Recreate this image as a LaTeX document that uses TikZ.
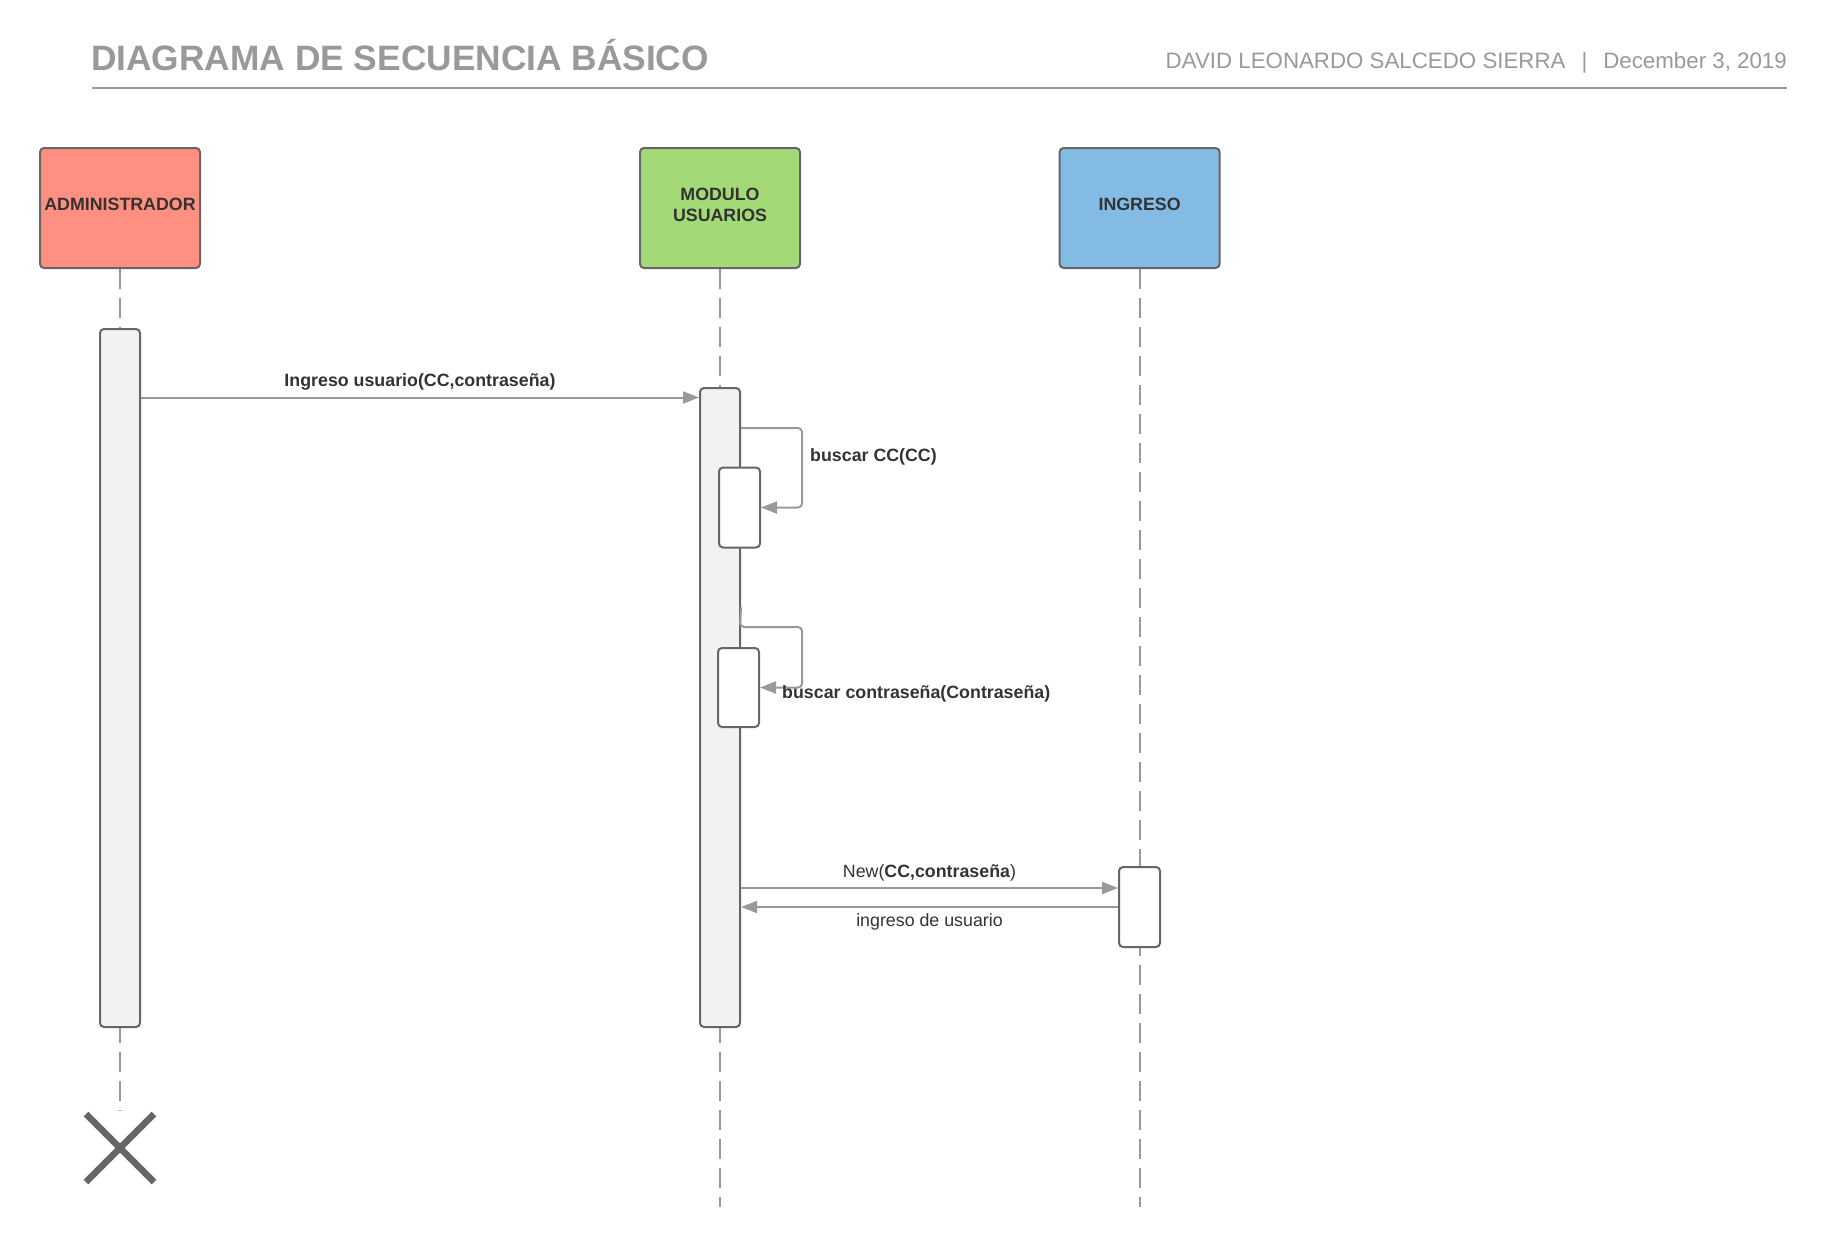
\documentclass[tikz,border=0pt]{standalone}
\usepackage{fontspec}
\setmainfont{Liberation Sans}
\usetikzlibrary{arrows.meta}
\definecolor{hdr}{HTML}{999999}
\definecolor{bord}{HTML}{666666}
\definecolor{txt}{HTML}{333333}
\definecolor{conn}{HTML}{999999}
\definecolor{redf}{HTML}{FF8F80}
\definecolor{greenf}{HTML}{A3D977}
\definecolor{bluef}{HTML}{83BBE5}
\definecolor{actf}{HTML}{F2F2F2}
\begin{document}
\begin{tikzpicture}[x=1pt,y=-1pt,
  head/.style={draw=bord, line width=2pt, rounded corners=4pt, minimum width=160pt, minimum height=120pt,
    font=\fontsize{17.8}{21}\selectfont\bfseries, text=txt, align=center, inner sep=0pt, text depth=7pt},
  act/.style={draw=bord, line width=2pt, rounded corners=4pt, fill=actf, minimum width=40pt, inner sep=0pt},
  sub/.style={act, fill=white, minimum width=41pt},
  life/.style={draw=conn, line width=2pt, dash pattern=on 20pt off 9pt},
  msg/.style={draw=conn, line width=2pt, -{Triangle[length=16pt,width=12pt]}},
  lbl/.style={font=\fontsize{17.8}{21}\selectfont, text=txt, inner sep=0pt},
  blbl/.style={font=\fontsize{17.8}{21}\selectfont\bfseries, text=txt, inner sep=0pt},
]
\useasboundingbox (0,0) rectangle (1828,1248);

% header
\node[anchor=base west, inner sep=0pt, text=hdr, font=\fontsize{35.3}{42}\selectfont\bfseries] (title) at (91,70.5) {DIAGRAMA DE SECUENCIA BÁSICO};
\node[anchor=base east, inner sep=0pt, text=hdr, font=\fontsize{22.3}{26}\selectfont] (author) at (1787,68) {DAVID LEONARDO SALCEDO SIERRA\hspace{16pt}|\hspace{16pt}December 3, 2019};
\draw[draw=hdr, line width=2pt] (92,87.5) -- (1787,87.5);

% lifeline heads
\node[head, fill=redf] (ah) at (120,208) {ADMINISTRADOR};
\node[head, fill=greenf] (mh) at (720,208) {MODULO\\USUARIOS};
\node[head, fill=bluef] (ih) at (1139.6,208) {INGRESO};

% lifeline ends
\coordinate (aend) at (120,1111);
\coordinate (mend) at (720,1207);
\coordinate (iend) at (1139.6,1207);
\draw[life] (ah.south) -- (aend);
\draw[life] (mh.south) -- (mend);
\draw[life] (ih.south) -- (iend);

% activations
\node[act, minimum height=698pt] (aa) at (120,678) {};
\node[act, minimum height=639pt] (ma) at (720,707.5) {};
\node[sub, minimum height=80pt] (s1) at (739.5,507.5) {};
\node[sub, minimum height=79pt] (s2) at (738.5,687.5) {};
\node[sub, minimum height=80pt] (ia) at (1139.5,907) {};

% message levels
\coordinate (y1) at (0,397.5);
\coordinate (y2) at (0,428);
\coordinate (y3) at (0,607);
\coordinate (y4) at (0,888);
\coordinate (y5) at (0,907);

\draw[msg] (aa.east |- y1) -- node[blbl, yshift=15.5pt] (l1) {Ingreso usuario(CC,contraseña)} (ma.west |- y1);

\draw[msg, rounded corners=4pt] (ma.east |- y2) -- (802,428) |- (s1.east);
\node[blbl, anchor=west] (l2) at (810,457) {buscar CC(CC)};

\draw[msg, rounded corners=4pt] (ma.east |- y3) -- (740,627) -- (802,627) |- (s2.east);
\node[blbl, anchor=west] (l3) at (782,693.5) {buscar contraseña(Contraseña)};

\draw[msg] (ma.east |- y4) -- node[lbl, yshift=15.5pt] (l4) {New(\textbf{CC,contraseña})} (ia.west |- y4);
\draw[msg] (ia.west |- y5) -- node[lbl, yshift=-15pt] (l5) {ingreso de usuario} (ma.east |- y5);

% destroy mark
\coordinate (xd) at (120,1148);
\draw[draw=bord, line width=6.5pt] (xd) ++(-34,-34) -- ++(68,68);
\draw[draw=bord, line width=6.5pt] (xd) ++(34,-34) -- ++(-68,68);
\end{tikzpicture}
\end{document}
